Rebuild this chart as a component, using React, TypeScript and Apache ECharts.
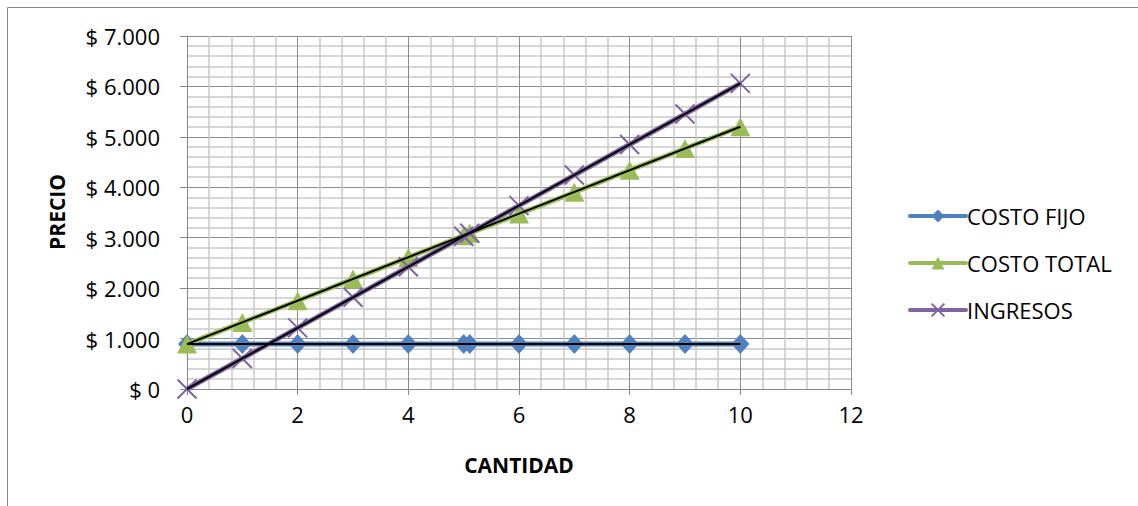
import React, { useEffect, useRef } from "react";
import * as echarts from "echarts";

// ---- data ----
const cantidad = [0, 1, 2, 3, 4, 5, 5.11, 6, 7, 8, 9, 10];
const costoFijo = [890, 890, 890, 890, 890, 890, 890, 890, 890, 890, 890, 890];
const costoTotal = [890, 1320, 1750, 2180, 2610, 3040, 3090, 3470, 3900, 4340, 4770, 5200];
const ingresos = [0, 606, 1212, 1818, 2424, 3030, 3090, 3636, 4242, 4848, 5454, 6060];
// black linear trend lines (start and end points)
const trendFijo = [[0, 890], [10, 890]];
const trendTotal = [[0, 890], [10, 5200]];
const trendIngresos = [[0, 0], [10, 6060]];
const seriesNames = ["COSTO FIJO", "COSTO TOTAL", "INGRESOS"];
const xAxisTitle = "CANTIDAD";
const yAxisTitle = "PRECIO";

const FONT = "'Open Sans', 'Liberation Sans', sans-serif";

function fmtMoney(v: number): string {
  const s = String(Math.round(v)).replace(/\B(?=(\d{3})+(?!\d))/g, ".");
  return "$ " + s;
}

export default function App() {
  const ref = useRef<HTMLDivElement>(null);
  useEffect(() => {
    document.body.style.margin = "0";
    const chart = echarts.init(ref.current!, null, { renderer: "svg" });
    const pts = (ys: number[]) => cantidad.map((x, i) => [x, ys[i]]);
    const blue = "#4F81BD";
    const green = "#9BBB59";
    const purple = "#8064A2";
    const option: any = {
      animation: false,
      backgroundColor: "#ffffff",
      textStyle: { fontFamily: FONT },
      grid: { left: 187, right: 287, top: 36, bottom: 117, containLabel: false },
      xAxis: {
        type: "value",
        min: 0,
        max: 12,
        interval: 2,
        axisLine: { show: true, lineStyle: { color: "#868686", width: 1 } },
        axisTick: { show: true, length: 6, lineStyle: { color: "#868686" } },
        axisLabel: { color: "#000", fontSize: 22, fontFamily: FONT, margin: 14 },
        splitLine: { show: true, lineStyle: { color: "#8c8c8c", width: 1 } },
        minorTick: { show: false, splitNumber: 5 },
        minorSplitLine: { show: true, lineStyle: { color: "#c8c8c8", width: 1.5 } },
      },
      yAxis: {
        type: "value",
        min: 0,
        max: 7000,
        interval: 1000,
        axisLine: { show: true, lineStyle: { color: "#868686", width: 1 } },
        axisTick: { show: true, length: 7, lineStyle: { color: "#868686" } },
        axisLabel: {
          color: "#000",
          fontSize: 22,
          fontFamily: FONT,
          margin: 27,
          formatter: (v: number) => fmtMoney(v),
        },
        splitLine: { show: true, lineStyle: { color: "#8c8c8c", width: 1 } },
        minorTick: { show: false, splitNumber: 5 },
        minorSplitLine: { show: true, lineStyle: { color: "#c8c8c8", width: 1.5 } },
      },
      legend: {
        data: seriesNames,
        orient: "vertical",
        left: 903,
        top: 200,
        itemWidth: 56,
        itemHeight: 16,
        itemGap: 25,
        lineStyle: { width: 4, cap: "round" },
        textStyle: { color: "#000", fontSize: 22, fontFamily: FONT, padding: [0, 0, 0, -4] },
      },
      graphic: [
        {
          type: "rect",
          shape: { x: 7.5, y: 7.5, width: 1300, height: 700 },
          style: { fill: "none", stroke: "#868686", lineWidth: 1 },
          silent: true,
          z: 100,
        },
        {
          type: "text",
          x: 519,
          y: 465,
          style: {
            text: xAxisTitle,
            fontSize: 21,
            fontWeight: "bold",
            fontFamily: FONT,
            fill: "#000",
            textAlign: "center",
            textVerticalAlign: "middle",
          },
        },
        {
          type: "text",
          x: 57,
          y: 212,
          rotation: Math.PI / 2,
          style: {
            text: yAxisTitle,
            fontSize: 21,
            fontWeight: "bold",
            fontFamily: FONT,
            fill: "#000",
            textAlign: "center",
            textVerticalAlign: "middle",
          },
        },
      ],
      series: [
        {
          name: seriesNames[0],
          type: "line",
          data: pts(costoFijo),
          symbol: "diamond",
          symbolSize: [18, 20],
          itemStyle: { color: blue },
          lineStyle: { color: blue, width: 5 },
          z: 2,
        },
        {
          name: seriesNames[1],
          type: "line",
          data: pts(costoTotal),
          symbol: "triangle",
          symbolSize: [20, 19],
          itemStyle: { color: green },
          lineStyle: { color: green, width: 5 },
          z: 3,
        },
        {
          name: seriesNames[2],
          type: "line",
          data: pts(ingresos),
          symbol: "path://M0,0L20,20M20,0L0,20",
          symbolSize: 19,
          itemStyle: { color: purple, borderColor: purple, borderWidth: 2 },
          lineStyle: { color: purple, width: 5 },
          z: 4,
        },
        {
          name: "trend1",
          type: "line",
          data: trendFijo,
          symbol: "none",
          silent: true,
          lineStyle: { color: "#000", width: 2 },
          z: 10,
        },
        {
          name: "trend2",
          type: "line",
          data: trendTotal,
          symbol: "none",
          silent: true,
          lineStyle: { color: "#000", width: 2 },
          z: 10,
        },
        {
          name: "trend3",
          type: "line",
          data: trendIngresos,
          symbol: "none",
          silent: true,
          lineStyle: { color: "#000", width: 2 },
          z: 10,
        },
      ],
    };
    chart.setOption(option);
    return () => chart.dispose();
  }, []);
  return <div ref={ref} style={{ width: 1138, height: 506 }} />;
}
